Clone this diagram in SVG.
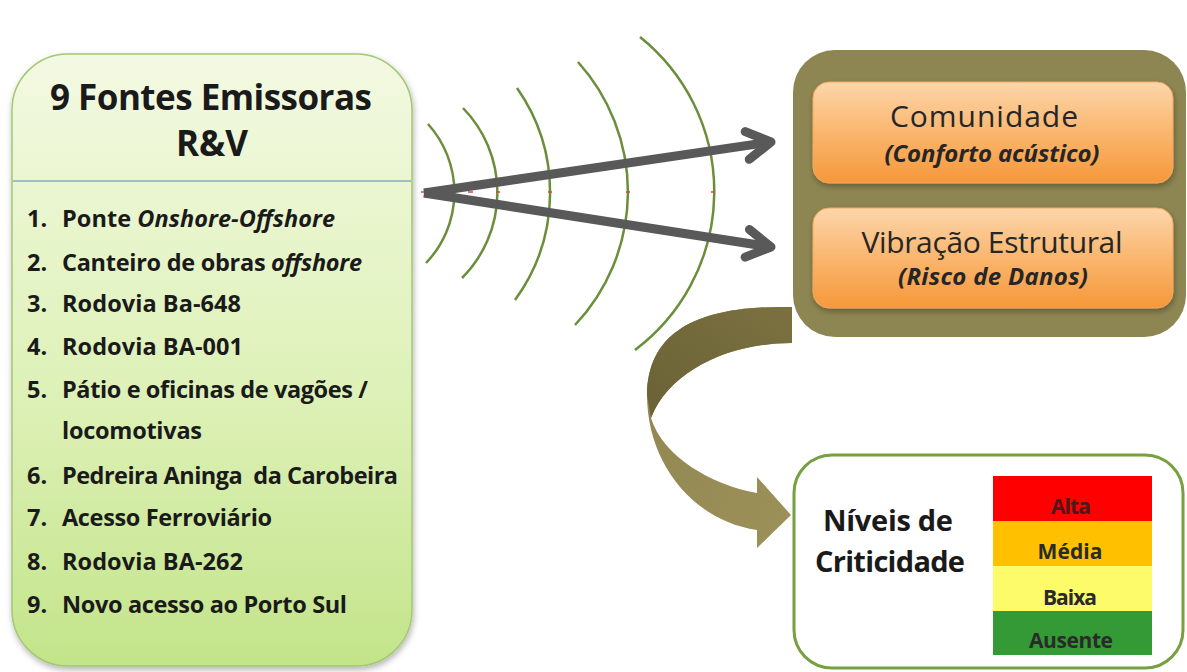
<svg xmlns="http://www.w3.org/2000/svg" width="1187" height="672" viewBox="0 0 1187 672">
<defs>
<style>
text{font-family:"Open Sans",Lato,"Liberation Sans",sans-serif;fill:#1a1a1a}
.title{font-size:35px;font-weight:700;text-anchor:middle}
.item{font-size:23.5px;font-weight:700}
.wave{fill:none;stroke:#6b8e3a;stroke-width:2.5}
.tick{stroke:#d04a3a;stroke-width:1.5}
.arrow{fill:none;stroke:#595959;stroke-width:9;marker-end:url(#chev)}
.ohead{font-size:30px;text-anchor:middle;fill:#262626}
.osub{font-size:24px;font-weight:700;font-style:italic;text-anchor:middle;fill:#262626}
.lvl{font-size:21px;font-weight:700;text-anchor:middle;fill:#2a2a2a}
.crit{font-size:29px;font-weight:700;text-anchor:middle}
</style>
<linearGradient id="gLeft" x1="0" y1="0" x2="0" y2="1">
<stop offset="0" stop-color="#f3f9e2"/>
<stop offset="0.55" stop-color="#def1b8"/>
<stop offset="1" stop-color="#c3e48a"/>
</linearGradient>
<linearGradient id="gOrange" x1="0" y1="0" x2="0" y2="1">
<stop offset="0" stop-color="#fcd6ab"/>
<stop offset="0.5" stop-color="#fab66e"/>
<stop offset="1" stop-color="#f6983a"/>
</linearGradient>
<linearGradient id="gBack" x1="1" y1="0" x2="0" y2="1">
<stop offset="0" stop-color="#7b7140"/>
<stop offset="1" stop-color="#6a6136"/>
</linearGradient>
<linearGradient id="gFront" x1="0" y1="0" x2="1" y2="1">
<stop offset="0" stop-color="#8f8550"/>
<stop offset="1" stop-color="#9c9158"/>
</linearGradient>
<filter id="sh" x="-10%" y="-10%" width="120%" height="125%">
<feDropShadow dx="1" dy="3" stdDeviation="3" flood-color="#000" flood-opacity="0.3"/>
</filter>
<marker id="chev" markerUnits="userSpaceOnUse" markerWidth="40" markerHeight="40" refX="30" refY="20" orient="auto" overflow="visible">
<path d="M 6 6 L 30 20 L 6 34" fill="none" stroke="#595959" stroke-width="9" stroke-linecap="round" stroke-linejoin="round"/>
</marker>
</defs>
<rect width="1187" height="672" fill="#ffffff"/>

<g id="fontes">
<rect x="12" y="54" width="400" height="612" rx="56" fill="url(#gLeft)" stroke="#a3c873" stroke-width="1.5" filter="url(#sh)"/>
<line x1="13" y1="181" x2="411" y2="181" stroke="#5a86b0" stroke-width="1.2"/>
<text class="title" x="211" y="110" textLength="322">9 Fontes Emissoras</text>
<text class="title" x="212" y="156" textLength="72">R&amp;V</text>
<text class="item" x="27" y="227">1.</text>
<text class="item" x="62" y="227" textLength="273">Ponte <tspan font-style="italic">Onshore-Offshore</tspan></text>
<text class="item" x="27" y="271">2.</text>
<text class="item" x="62" y="271" textLength="300">Canteiro de obras <tspan font-style="italic">offshore</tspan></text>
<text class="item" x="27" y="312">3.</text>
<text class="item" x="62" y="312" textLength="179">Rodovia Ba-648</text>
<text class="item" x="27" y="355">4.</text>
<text class="item" x="62" y="355" textLength="181">Rodovia BA-001</text>
<text class="item" x="27" y="398">5.</text>
<text class="item" x="62" y="398" textLength="306">Pátio e oficinas de vagões /</text>
<text class="item" x="62" y="439" textLength="140">locomotivas</text>
<text class="item" x="27" y="484">6.</text>
<text class="item" x="62" y="484" textLength="336" style="white-space:pre">Pedreira Aninga  da Carobeira</text>
<text class="item" x="27" y="526">7.</text>
<text class="item" x="62" y="526" textLength="210">Acesso Ferroviário</text>
<text class="item" x="27" y="570">8.</text>
<text class="item" x="62" y="570" textLength="181">Rodovia BA-262</text>
<text class="item" x="27" y="613">9.</text>
<text class="item" x="62" y="613" textLength="285">Novo acesso ao Porto Sul</text>
</g>

<g id="ondas">
<path class="wave" d="M 428 124 A 102 102 0 0 1 426 263"/>
<path class="wave" d="M 463 108 A 121 121 0 0 1 462 278"/>
<path class="wave" d="M 517 88 A 182 182 0 0 1 515 300"/>
<path class="wave" d="M 578 62 A 194 194 0 0 1 575 325"/>
<path class="wave" d="M 640 37 A 198 198 0 0 1 635 350"/>
<line class="tick" x1="421" y1="192" x2="426" y2="192"/>
<line class="tick" x1="468" y1="192" x2="473" y2="192"/>
<line class="tick" x1="496" y1="192" x2="500" y2="192"/>
<line class="tick" x1="548" y1="192" x2="552" y2="192"/>
<line class="tick" x1="626" y1="192" x2="630" y2="192"/>
<line class="tick" x1="711" y1="192" x2="715" y2="192"/>
</g>

<g id="curva">
<path d="M 792 307 C 700 305 648 330 647 395 C 647 460 690 520 757 530 L 757 548 L 791 515 L 757 477 L 757 493 C 710 485 662 455 651 418 C 670 370 730 343 792 343 Z" fill="url(#gFront)"/>
<path d="M 792 307 C 700 305 648 330 647 395 L 651 418 C 670 370 730 343 792 343 Z" fill="url(#gBack)"/>
</g>

<g id="receptores">
<rect x="793" y="50" width="393" height="287" rx="42" fill="#8e8652"/>
</g>
<g id="comunidade">
<rect x="813" y="82" width="360" height="101" rx="16" fill="url(#gOrange)" stroke="#f1a860" stroke-width="1" filter="url(#sh)"/>
<text class="ohead" x="984" y="127" textLength="188">Comunidade</text>
<text class="osub" x="992" y="162" textLength="215">(Conforto acústico)</text>
</g>
<g id="vibracao">
<rect x="813" y="208" width="360" height="100" rx="16" fill="url(#gOrange)" stroke="#f1a860" stroke-width="1" filter="url(#sh)"/>
<text class="ohead" x="992" y="253" textLength="261">Vibração Estrutural</text>
<text class="osub" x="993" y="285" textLength="190">(Risco de Danos)</text>
</g>

<g id="conectores">
<line class="arrow" x1="424" y1="193" x2="771" y2="142"/>
<line class="arrow" x1="424" y1="193" x2="771" y2="247"/>
</g>

<g id="criticidade">
<rect x="794" y="455" width="389" height="213" rx="38" fill="#ffffff" stroke="#77a040" stroke-width="3"/>
<text class="crit" x="888" y="531" textLength="130">Níveis de</text>
<text class="crit" x="890" y="572" textLength="150">Criticidade</text>
<rect x="993" y="476" width="159" height="45" fill="#ff0000"/>
<rect x="993" y="521" width="159" height="45" fill="#ffc000"/>
<rect x="993" y="566" width="159" height="45" fill="#fdfb6a"/>
<rect x="993" y="611" width="159" height="44" fill="#339a36"/>
<text class="lvl" x="1071" y="514" textLength="40" style="fill:#4a1a1a">Alta</text>
<text class="lvl" x="1070" y="559" textLength="65">Média</text>
<text class="lvl" x="1070" y="605" textLength="54">Baixa</text>
<text class="lvl" x="1071" y="648" textLength="84">Ausente</text>
</g>
</svg>
